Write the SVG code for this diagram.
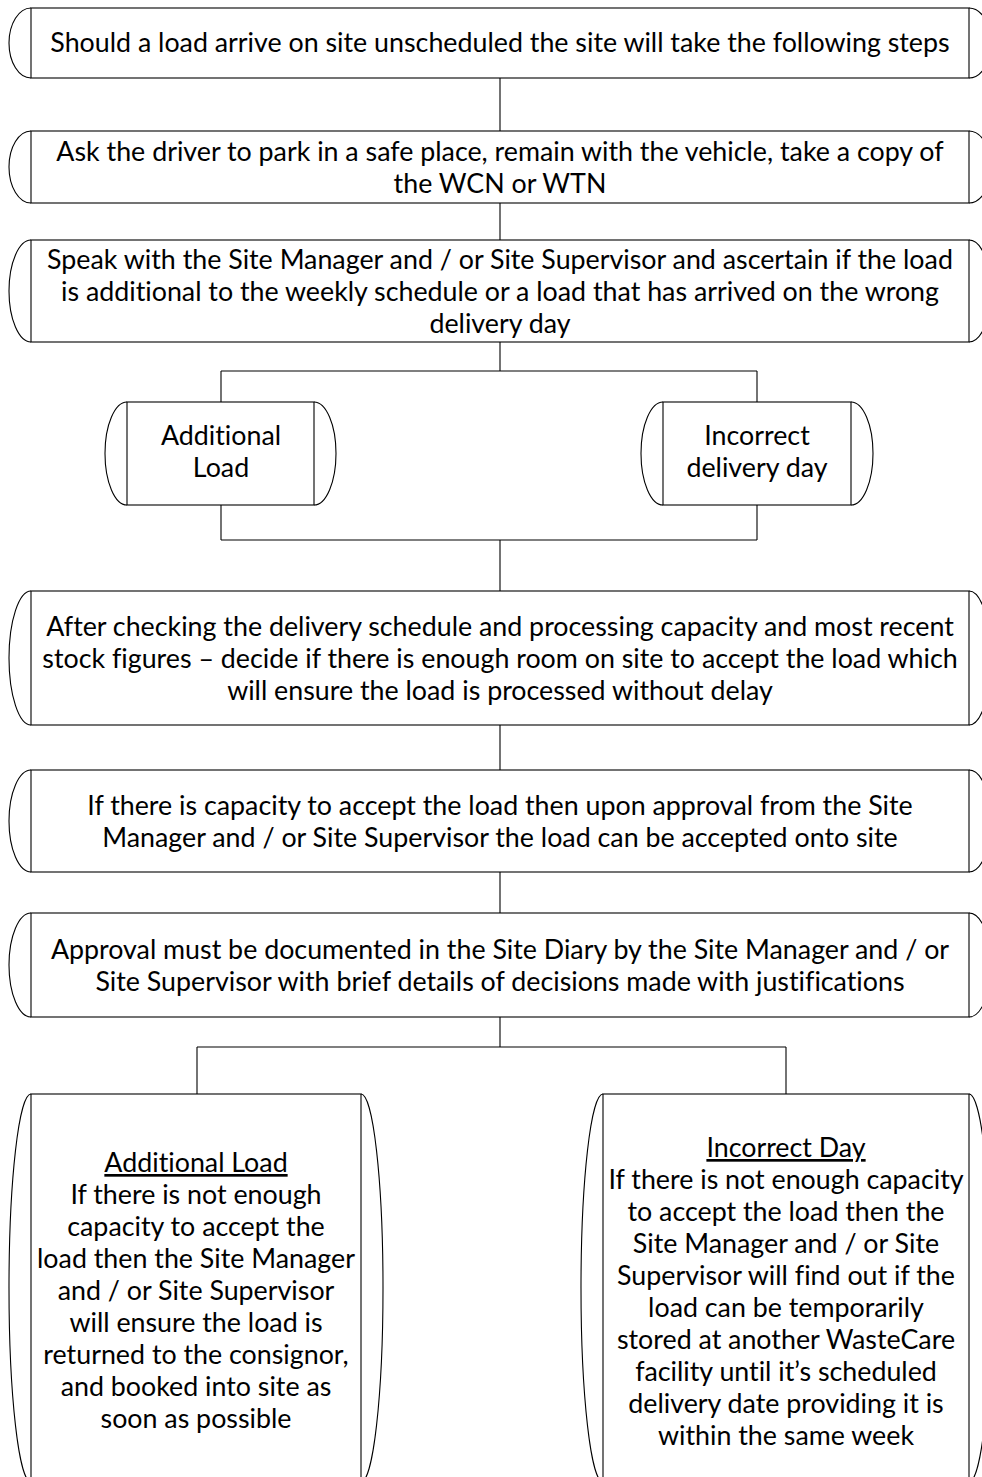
<svg xmlns="http://www.w3.org/2000/svg" width="982" height="1477" viewBox="0 0 982 1477">
<style>
.s{fill:#fff;stroke:#000;stroke-width:1.1}
.a{fill:none;stroke:#000;stroke-width:1.1}
.c{fill:none;stroke:#000;stroke-width:1.1}
text{font-family:Lato,"Liberation Sans",sans-serif;font-size:26.8px;fill:#000;text-anchor:middle;font-variant-ligatures:none}
.u{text-decoration:underline}
</style>
<rect width="982" height="1477" fill="#fff"/>
<g id="connectors">
<line class="c" x1="500" y1="78" x2="500" y2="131"/>
<line class="c" x1="500" y1="203" x2="500" y2="240"/>
<line class="c" x1="500" y1="342" x2="500" y2="371"/>
<line class="c" x1="221" y1="371" x2="757" y2="371"/>
<line class="c" x1="221" y1="371" x2="221" y2="402"/>
<line class="c" x1="757" y1="371" x2="757" y2="402"/>
<line class="c" x1="221" y1="505" x2="221" y2="540"/>
<line class="c" x1="757" y1="505" x2="757" y2="540"/>
<line class="c" x1="221" y1="540" x2="757" y2="540"/>
<line class="c" x1="500" y1="540" x2="500" y2="591"/>
<line class="c" x1="500" y1="725" x2="500" y2="770"/>
<line class="c" x1="500" y1="872" x2="500" y2="913"/>
<line class="c" x1="500" y1="1017" x2="500" y2="1047"/>
<line class="c" x1="197" y1="1047" x2="786" y2="1047"/>
<line class="c" x1="197" y1="1047" x2="197" y2="1094"/>
<line class="c" x1="786" y1="1047" x2="786" y2="1094"/>
</g>
<g id="n1">
<rect class="s" x="31" y="8" width="938" height="70"/>
<path class="a" d="M31 8A22 35 0 0 0 31 78M969 8A22 35 0 0 1 969 78"/>
<text x="500" y="52">Should a load arrive on site unscheduled the site will take the following steps</text>
</g>
<g id="n2">
<rect class="s" x="31" y="131" width="938" height="72"/>
<path class="a" d="M31 131A22 36 0 0 0 31 203M969 131A22 36 0 0 1 969 203"/>
<text x="500" y="161">Ask the driver to park in a safe place, remain with the vehicle, take a copy of</text>
<text x="500" y="193">the WCN or WTN</text>
</g>
<g id="n3">
<rect class="s" x="31" y="240" width="938" height="102"/>
<path class="a" d="M31 240A22 51 0 0 0 31 342M969 240A22 51 0 0 1 969 342"/>
<text x="500" y="269">Speak with the Site Manager and / or Site Supervisor and ascertain if the load</text>
<text x="500" y="301">is additional to the weekly schedule or a load that has arrived on the wrong</text>
<text x="500" y="333">delivery day</text>
</g>
<g id="n4">
<rect class="s" x="127" y="402" width="187" height="103"/>
<path class="a" d="M127 402A22 51.5 0 0 0 127 505M314 402A22 51.5 0 0 1 314 505"/>
<text x="221" y="445">Additional</text>
<text x="221" y="477">Load</text>
</g>
<g id="n5">
<rect class="s" x="663" y="402" width="188" height="103"/>
<path class="a" d="M663 402A22 51.5 0 0 0 663 505M851 402A22 51.5 0 0 1 851 505"/>
<text x="757" y="445">Incorrect</text>
<text x="757" y="477">delivery day</text>
</g>
<g id="n6">
<rect class="s" x="31" y="591" width="938" height="134"/>
<path class="a" d="M31 591A22 67 0 0 0 31 725M969 591A22 67 0 0 1 969 725"/>
<text x="500" y="636">After checking the delivery schedule and processing capacity and most recent</text>
<text x="500" y="668">stock figures – decide if there is enough room on site to accept the load which</text>
<text x="500" y="700">will ensure the load is processed without delay</text>
</g>
<g id="n7">
<rect class="s" x="31" y="770" width="938" height="102"/>
<path class="a" d="M31 770A22 51 0 0 0 31 872M969 770A22 51 0 0 1 969 872"/>
<text x="500" y="815">If there is capacity to accept the load then upon approval from the Site</text>
<text x="500" y="847">Manager and / or Site Supervisor the load can be accepted onto site</text>
</g>
<g id="n8">
<rect class="s" x="31" y="913" width="938" height="104"/>
<path class="a" d="M31 913A22 52 0 0 0 31 1017M969 913A22 52 0 0 1 969 1017"/>
<text x="500" y="959">Approval must be documented in the Site Diary by the Site Manager and / or</text>
<text x="500" y="991">Site Supervisor with brief details of decisions made with justifications</text>
</g>
<g id="n9">
<rect class="s" x="31" y="1094" width="330" height="388"/>
<path class="a" d="M31 1094A22 194 0 0 0 31 1482M361 1094A22 194 0 0 1 361 1482"/>
<text x="196" y="1172"><tspan class="u">Additional Load</tspan></text>
<text x="196" y="1204">If there is not enough</text>
<text x="196" y="1236">capacity to accept the</text>
<text x="196" y="1268">load then the Site Manager</text>
<text x="196" y="1300">and / or Site Supervisor</text>
<text x="196" y="1332">will ensure the load is</text>
<text x="196" y="1364">returned to the consignor,</text>
<text x="196" y="1396">and booked into site as</text>
<text x="196" y="1428">soon as possible</text>
</g>
<g id="n10">
<rect class="s" x="603" y="1094" width="366" height="388"/>
<path class="a" d="M603 1094A22 194 0 0 0 603 1482M969 1094A22 194 0 0 1 969 1482"/>
<text x="786" y="1157"><tspan class="u">Incorrect Day</tspan></text>
<text x="786" y="1189">If there is not enough capacity</text>
<text x="786" y="1221">to accept the load then the</text>
<text x="786" y="1253">Site Manager and / or Site</text>
<text x="786" y="1285">Supervisor will find out if the</text>
<text x="786" y="1317">load can be temporarily</text>
<text x="786" y="1349">stored at another WasteCare</text>
<text x="786" y="1381">facility until it’s scheduled</text>
<text x="786" y="1413">delivery date providing it is</text>
<text x="786" y="1445">within the same week</text>
</g>
</svg>
